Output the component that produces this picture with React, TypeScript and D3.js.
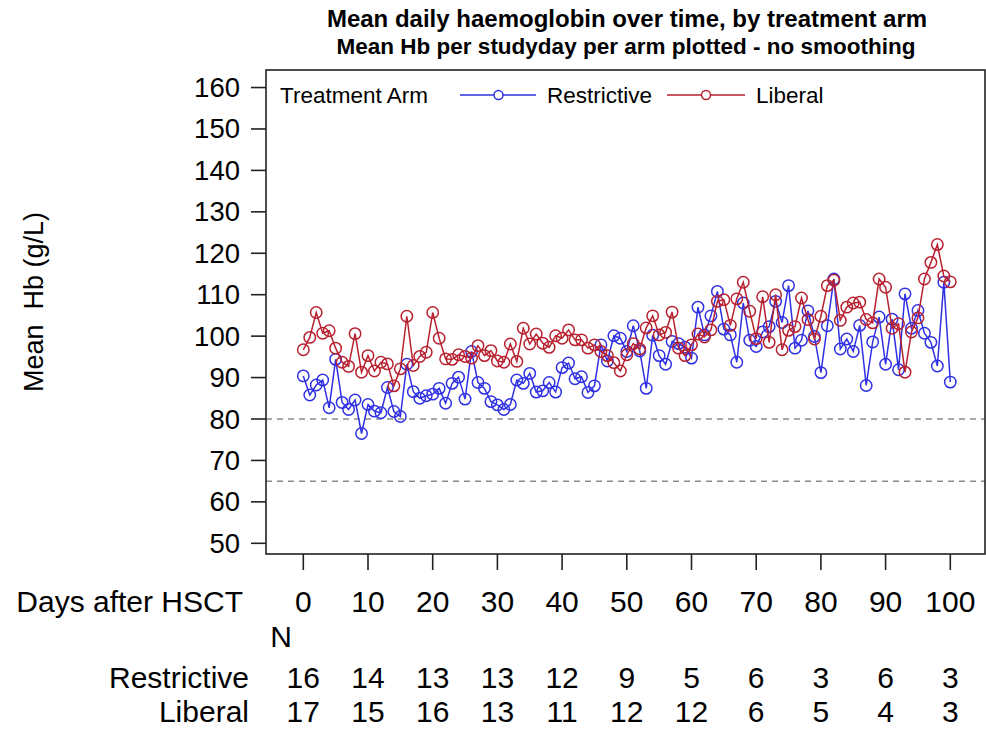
import React from "react";
import { scaleLinear, line } from "d3";

// mean Hb per study day, days 0..100
const days = Array.from({ length: 101 }, (_, i) => i);

const restrictive = [
  90.4, 85.8, 88.2, 89.4, 82.7, 94.4, 84.0, 82.3, 84.6, 76.5,
  83.5, 81.9, 81.5, 87.6, 81.8, 80.6, 93.2, 86.6, 85.0, 85.6,
  86.0, 87.4, 83.8, 88.6, 90.1, 84.8, 96.3, 88.8, 87.4, 84.2,
  83.4, 82.3, 83.5, 89.4, 88.6, 91.0, 86.5, 86.8, 88.8, 86.5,
  92.4, 93.5, 89.7, 90.2, 86.4, 88.0, 97.9, 94.0, 100.1, 99.5,
  96.3, 102.5, 96.4, 87.4, 100.2, 95.3, 93.2, 98.7, 98.2, 97.3,
  94.7, 107.0, 100.3, 104.9, 110.8, 101.7, 100.3, 93.7, 108.0, 99.0,
  97.5, 101.0, 102.3, 108.4, 103.3, 112.2, 97.1, 99.0, 106.1, 99.9,
  91.2, 102.5, 113.8, 96.9, 99.3, 96.3, 102.6, 88.1, 98.6, 104.6,
  93.2, 104.1, 91.9, 110.2, 101.9, 106.2, 100.7, 98.5, 92.8, 113.0,
  88.9,
];

const liberal = [
  96.7, 99.7, 105.7, 100.7, 101.3, 97.1, 93.7, 92.7, 100.6, 91.3,
  95.3, 91.6, 93.7, 93.3, 88.0, 92.1, 104.8, 92.9, 95.1, 96.1,
  105.7, 99.5, 94.5, 94.4, 95.5, 95.1, 94.7, 97.7, 95.3, 96.5,
  94.0, 93.7, 98.1, 93.9, 101.9, 98.1, 100.5, 98.3, 97.3, 100.1,
  99.5, 101.5, 99.1, 99.1, 97.1, 97.9, 96.3, 95.3, 93.6, 91.6,
  95.5, 98.2, 96.9, 102.0, 104.9, 100.3, 100.9, 105.8, 97.1, 95.3,
  97.9, 100.5, 99.8, 101.5, 108.4, 108.8, 102.6, 109.0, 113.0, 106.0,
  99.4, 109.5, 98.5, 110.0, 96.7, 101.4, 102.3, 109.2, 104.0, 99.3,
  104.8, 112.2, 113.5, 103.8, 107.0, 108.0, 108.2, 104.0, 103.2, 113.8,
  111.8, 101.9, 103.0, 91.3, 101.0, 104.4, 113.8, 117.8, 122.1, 114.5,
  113.1,
];

const xTicks = [0, 10, 20, 30, 40, 50, 60, 70, 80, 90, 100];
const yTicks = [50, 60, 70, 80, 90, 100, 110, 120, 130, 140, 150, 160];
const refLines = [80, 65];
const nRestrictive = [16, 14, 13, 13, 12, 9, 5, 6, 3, 6, 3];
const nLiberal = [17, 15, 16, 13, 11, 12, 12, 6, 5, 4, 3];

const BLUE = "#3030e4";
const RED = "#b8202f";
const FONT = "'Liberation Sans', Arial, sans-serif";

const W = 986;
const H = 729;
const box = { left: 266, right: 985, top: 70, bottom: 554 };

export default function App() {
  const x = scaleLinear().domain([0, 100]).range([303.3, 950.3]);
  const y = scaleLinear().domain([50, 80]).range([543.3, 419]);

  const path = line<number>()
    .x((d, i) => x(days[i]))
    .y((d) => y(d));

  const series = [
    { name: "Restrictive", vals: restrictive, color: BLUE },
    { name: "Liberal", vals: liberal, color: RED },
  ];

  const tableSize = 30;

  return (
    <svg
      width={W}
      height={H}
      style={{ position: "absolute", left: 0, top: 0, background: "#fff" }}
      fontFamily={FONT}
    >
      {/* titles */}
      <text x={627} y={27} textAnchor="middle" fontSize={24} fontWeight="bold">
        Mean daily haemoglobin over time, by treatment arm
      </text>
      <text x={626} y={54} textAnchor="middle" fontSize={22.5} fontWeight="bold">
        Mean Hb per studyday per arm plotted - no smoothing
      </text>

      {/* reference lines */}
      {refLines.map((v) => (
        <line
          key={v}
          x1={box.left}
          x2={box.right}
          y1={y(v)}
          y2={y(v)}
          stroke="#8c8c8c"
          strokeWidth={1.5}
          strokeDasharray="6,5"
        />
      ))}

      {/* series */}
      {series.map((s) => (
        <g key={s.name}>
          <path d={path(s.vals) || ""} fill="none" stroke={s.color} strokeWidth={1.5} />
          {s.vals.map((v, i) => (
            <circle
              key={i}
              cx={x(days[i])}
              cy={y(v)}
              r={5.7}
              fill="none"
              stroke={s.color}
              strokeWidth={1.5}
            />
          ))}
        </g>
      ))}

      {/* frame */}
      <rect
        x={box.left}
        y={box.top}
        width={box.right - box.left}
        height={box.bottom - box.top}
        fill="none"
        stroke="#222"
        strokeWidth={1.6}
      />

      {/* y axis */}
      {yTicks.map((t) => (
        <g key={t}>
          <line x1={box.left - 15} x2={box.left} y1={y(t)} y2={y(t)} stroke="#222" strokeWidth={1.6} />
          <text x={240} y={y(t) + 9.5} textAnchor="end" fontSize={27.5}>
            {t}
          </text>
        </g>
      ))}
      <text
        transform={`translate(43,302) rotate(-90)`}
        textAnchor="middle"
        fontSize={27}
        xmlSpace="preserve"
      >
        Mean  Hb (g/L)
      </text>

      {/* x axis */}
      {xTicks.map((t) => (
        <g key={t}>
          <line x1={x(t)} x2={x(t)} y1={box.bottom} y2={box.bottom + 16} stroke="#222" strokeWidth={1.6} />
          <text x={x(t)} y={612} textAnchor="middle" fontSize={tableSize}>
            {t}
          </text>
        </g>
      ))}
      <text x={243} y={612} textAnchor="end" fontSize={tableSize}>
        Days after HSCT
      </text>

      {/* numbers at risk */}
      <text x={281} y={647} textAnchor="middle" fontSize={tableSize}>
        N
      </text>
      <text x={249} y={688} textAnchor="end" fontSize={tableSize}>
        Restrictive
      </text>
      <text x={249} y={722} textAnchor="end" fontSize={tableSize}>
        Liberal
      </text>
      {xTicks.map((t, i) => (
        <g key={"n" + t}>
          <text x={x(t)} y={688} textAnchor="middle" fontSize={tableSize}>
            {nRestrictive[i]}
          </text>
          <text x={x(t)} y={722} textAnchor="middle" fontSize={tableSize}>
            {nLiberal[i]}
          </text>
        </g>
      ))}

      {/* legend */}
      <text x={280} y={103} fontSize={22.5}>
        Treatment Arm
      </text>
      <line x1={460} x2={536} y1={95} y2={95} stroke={BLUE} strokeWidth={1.5} />
      <circle cx={498.5} cy={95} r={4.5} fill="#fff" stroke={BLUE} strokeWidth={1.5} />
      <text x={547} y={103} fontSize={22.5}>
        Restrictive
      </text>
      <line x1={667} x2={745} y1={95} y2={95} stroke={RED} strokeWidth={1.5} />
      <circle cx={706} cy={95} r={4.5} fill="#fff" stroke={RED} strokeWidth={1.5} />
      <text x={756} y={103} fontSize={22.5}>
        Liberal
      </text>
    </svg>
  );
}
